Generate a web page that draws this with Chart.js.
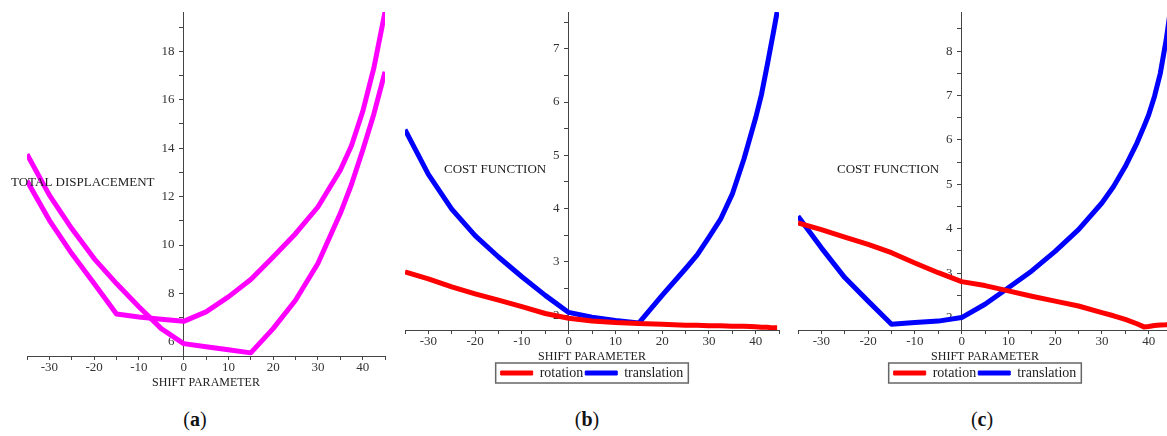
<!DOCTYPE html>
<html>
<head>
<meta charset="utf-8">
<script src="https://cdn.jsdelivr.net/npm/chart.js@4.4.0/dist/chart.umd.min.js"></script>
<style>
  html, body { margin: 0; padding: 0; background: #fff; }
  body { width: 1167px; height: 436px; position: relative; overflow: hidden; }
  canvas { position: absolute; top: 0; }
  .tag { position: absolute; top: 408px; width: 60px; text-align: center; font: 20px "Liberation Serif", serif; color: #111; }
</style>
</head>
<body>
<canvas id="chartA" width="395" height="395" style="left:0"></canvas>
<canvas id="chartB" width="390" height="395" style="left:395px"></canvas>
<canvas id="chartC" width="400" height="395" style="left:785px"></canvas>
<div class="tag" style="left:165px">(<b>a</b>)</div>
<div class="tag" style="left:557px">(<b>b</b>)</div>
<div class="tag" style="left:952px">(<b>c</b>)</div>
<script>
// shift parameter values
const shiftA = [-35, -30, -25, -20, -15, -10, -5, 0, 5, 10, 15, 20, 25, 30, 35, 37.5, 40, 42.5, 45];
const displacement1 = [13.75, 12.06, 10.68, 9.44, 8.41, 7.45, 6.55, 5.93, 5.80, 5.68, 5.55, 6.55, 7.72, 9.24, 11.3, 12.5, 13.9, 15.4, 17.15];
const displacement2 = [12.65, 11.02, 9.65, 8.41, 7.15, 7.03, 6.94, 6.85, 7.24, 7.86, 8.58, 9.51, 10.47, 11.57, 13.09, 14.1, 15.5, 17.3, 19.62];

const shiftB = [-35, -30, -25, -20, -15, -10, -5, 0, 5, 10, 15, 20, 25, 27.5, 30, 32.5, 35, 37.5, 40, 41.25, 42.5, 43.75, 44.6];
const rotationB = [2.81, 2.68, 2.53, 2.40, 2.28, 2.16, 2.03, 1.94, 1.89, 1.86, 1.84, 1.83, 1.81, 1.81, 1.80, 1.80, 1.79, 1.79, 1.78, 1.77, 1.77, 1.76, 1.76];
const translationB = [5.48, 4.64, 3.99, 3.49, 3.09, 2.72, 2.37, 2.05, 1.96, 1.90, 1.85, 2.37, 2.87, 3.13, 3.46, 3.80, 4.27, 4.93, 5.70, 6.14, 6.70, 7.28, 7.69];

const shiftC = [-35, -30, -25, -20, -15, -10, -5, 0, 5, 10, 15, 20, 25, 30, 32.5, 35, 37.5, 39, 40, 41.25, 42.5, 43.75, 44.6];
const rotationC = [4.13, 3.98, 3.81, 3.65, 3.46, 3.23, 3.01, 2.81, 2.72, 2.60, 2.48, 2.37, 2.26, 2.11, 2.04, 1.96, 1.86, 1.79, 1.80, 1.82, 1.83, 1.84, 1.85];
const translationC = [4.28, 3.57, 2.90, 2.37, 1.85, 1.89, 1.92, 2.00, 2.30, 2.67, 3.05, 3.49, 3.98, 4.58, 4.95, 5.40, 5.93, 6.30, 6.56, 6.98, 7.50, 8.25, 8.88];

// axis ticks (minor ones get no label)
const xTicks = [-35, -30, -25, -20, -15, -10, -5, 0, 5, 10, 15, 20, 25, 30, 35, 40, 45];
const yTicksA = [6, 7, 8, 9, 10, 11, 12, 13, 14, 15, 16, 17, 18, 19];
const yTicksB = [2, 2.5, 3, 3.5, 4, 4.5, 5, 5.5, 6, 6.5, 7, 7.5];
const yTicksC = [2, 2.5, 3, 3.5, 4, 4.5, 5, 5.5, 6, 6.5, 7, 7.5, 8, 8.5];

const serif = '"Liberation Serif", "Times New Roman", serif';
const axisColor = '#444';
Chart.defaults.font.family = serif;

const sideTitle = {
    id: 'sideTitle',
    afterDatasetsDraw(chart, args, opts) {
        const ctx = chart.ctx;
        ctx.save();
        ctx.font = '13px ' + serif;
        ctx.fillStyle = '#222';
        ctx.textBaseline = 'middle';
        ctx.fillText(opts.text, opts.x, opts.y);
        ctx.restore();
    }
};

const legendFrame = {
    id: 'legendFrame',
    afterDraw(chart) {
        const lg = chart.legend;
        if (!lg || !lg.options.display || !lg.legendHitBoxes || !lg.legendHitBoxes.length) return;
        const boxes = lg.legendHitBoxes;
        const last = boxes[boxes.length - 1];
        const left = boxes[0].left - 5;
        const right = last.left + last.width + 5;
        const top = boxes[0].top - 3;
        const bottom = boxes[0].top + boxes[0].height + 3;
        const ctx = chart.ctx;
        ctx.save();
        ctx.strokeStyle = '#666';
        ctx.lineWidth = 1.5;
        ctx.strokeRect(left, top, right - left, bottom - top);
        ctx.restore();
    }
};

function series(label, xs, ys, color) {
    return {
        label: label,
        data: xs.map((x, i) => ({ x: x, y: ys[i] })),
        borderColor: color,
        backgroundColor: color,
        borderWidth: 5,
        borderJoinStyle: 'round',
        pointRadius: 0,
        tension: 0
    };
}

function makeChart(id, datasets, yMin, yMax, yTicks, yLabelEvery, title, pad, showLegend) {
    new Chart(document.getElementById(id), {
        type: 'line',
        data: { datasets: datasets },
        options: {
            responsive: false,
            animation: false,
            layout: { padding: pad },
            plugins: {
                legend: {
                    display: showLegend,
                    position: 'bottom',
                    labels: {
                        boxWidth: 32,
                        boxHeight: 4,
                        padding: 2,
                        color: '#222',
                        font: { family: serif, size: 14 },
                        generateLabels: chart => Chart.defaults.plugins.legend.labels.generateLabels(chart)
                            .map(item => ({ ...item, lineWidth: 1 }))
                    }
                },
                tooltip: { enabled: false },
                sideTitle: title
            },
            scales: {
                x: {
                    type: 'linear',
                    position: 'bottom',
                    min: -35,
                    max: 45,
                    afterBuildTicks: axis => { axis.ticks = xTicks.map(v => ({ value: v })); },
                    afterFit: axis => { axis.height = 34; },
                    grid: { drawOnChartArea: false, tickLength: 4, color: axisColor },
                    border: { color: axisColor, width: 1 },
                    ticks: {
                        autoSkip: false,
                        maxRotation: 0,
                        padding: 0,
                        color: '#333',
                        font: { family: serif, size: 13 },
                        callback: v => v % 10 === 0 ? String(v) : ''
                    },
                    title: {
                        display: true,
                        text: 'SHIFT PARAMETER',
                        color: '#222',
                        font: { family: serif, size: 12 },
                        padding: { top: 0, bottom: 0 }
                    }
                },
                y: {
                    type: 'linear',
                    position: { x: 0 },
                    min: yMin,
                    max: yMax,
                    afterBuildTicks: axis => { axis.ticks = yTicks.map(v => ({ value: v })); },
                    grid: { drawOnChartArea: false, tickLength: 4, color: axisColor },
                    border: { color: axisColor, width: 1 },
                    ticks: {
                        autoSkip: false,
                        color: '#333',
                        font: { family: serif, size: 13 },
                        // the label sits on the axis line here, so pad it with spaces
                        callback: v => v % yLabelEvery === 0 ? v + '\u2002\u2009' : ''
                    }
                }
            }
        },
        plugins: [sideTitle, legendFrame]
    });
}

makeChart('chartA',
    [series('curve 1', shiftA, displacement1, '#ff00ff'), series('curve 2', shiftA, displacement2, '#ff00ff')],
    5.42, 19.62, yTicksA, 2,
    { text: 'TOTAL DISPLACEMENT', x: 11, y: 183 },
    { left: 27, right: 10, top: 12, bottom: 5 }, false);

makeChart('chartB',
    [series('rotation', shiftB, rotationB, '#ff0000'), series('translation', shiftB, translationB, '#0000ff')],
    1.72, 7.69, yTicksB, 1,
    { text: 'COST FUNCTION', x: 49, y: 170 },
    { left: 10, right: 6, top: 12, bottom: 5 }, true);

makeChart('chartC',
    [series('rotation', shiftC, rotationC, '#ff0000'), series('translation', shiftC, translationC, '#0000ff')],
    1.72, 8.88, yTicksC, 1,
    { text: 'COST FUNCTION', x: 52, y: 170 },
    { left: 13, right: 13, top: 12, bottom: 5 }, true);
</script>
</body>
</html>
